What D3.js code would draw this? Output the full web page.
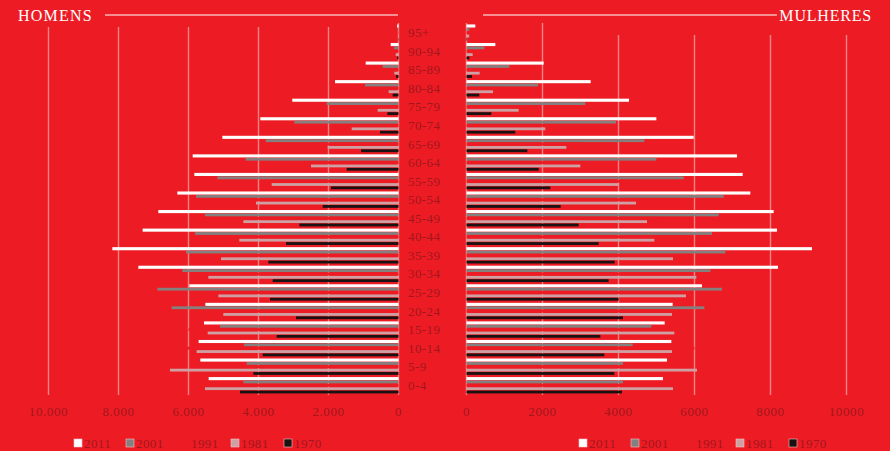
<!DOCTYPE html>
<html><head><meta charset="utf-8">
<script src="https://cdn.jsdelivr.net/npm/d3@7"></script>
<style>html,body{margin:0;padding:0;background:#ed1c24;}svg{display:block;}</style>
</head><body>
<svg id="chart" width="890" height="451"></svg>
<script>
const ages = ["0-4","5-9","10-14","15-19","20-24","25-29","30-34","35-39","40-44","45-49","50-54","55-59","60-64","65-69","70-74","75-79","80-84","85-89","90-94","95+"];
const years = ["2011","2001","1991","1981","1970"];
const colors = ["#ffffff","#858080","#ed1c24","#cfa0a3","#1a1212"];

const men2011 = [5424,5662,5710,5557,5519,5976,7433,8176,7310,6862,6319,5833,5881,5033,3948,3034,1814,937,223,40];
const men2001 = [4433,4338,4414,5100,6481,6890,6176,6071,5814,5529,5786,5176,4367,3795,2976,2052,957,452,130,20];
const men1991 = [5000,5400,6300,6000,5500,5200,5300,5400,5000,4600,4300,3800,3300,2300,1700,1000,420,170,60,10];
const men1981 = [5529,6529,5767,5452,5005,5148,5433,5071,4548,4433,4071,3624,2500,2024,1338,595,281,119,80,10];
const men1970 = [4529,4148,3881,3481,2929,3671,3595,3719,3214,2833,2167,1929,1481,1071,529,319,167,71,40,10];

const women2011 = [5171,5276,5390,5215,5425,6197,8197,9092,8171,8083,7469,7268,7118,5978,4996,4276,3268,2031,759,232];
const women2001 = [4118,4118,4373,4864,6259,6724,6417,6812,6461,6636,6768,5715,4996,4680,3934,3127,1882,1127,469,75];
const women1991 = [4800,5200,6000,5800,5500,5600,5900,5900,5500,5100,4800,4400,3700,3000,2400,1800,1000,480,200,40];
const women1981 = [5434,6066,5408,5469,5408,5776,6048,5434,4943,4750,4461,4004,2996,2627,2075,1373,697,346,162,70];
const women1970 = [4092,3890,3627,3522,4118,4004,3741,3899,3478,2952,2478,2206,1899,1601,1285,653,338,145,75,15];

const leftTicks = [10000,8000,6000,4000,2000,0];
const leftTickLabels = ["10.000","8.000","6.000","4.000","2.000","0"];
const rightTicks = [0,2000,4000,6000,8000,10000];
const rightTickLabels = ["0","2000","4000","6000","8000","10000"];

const menSeries = [men2011, men2001, men1991, men1981, men1970];
const womenSeries = [women2011, women2001, women1991, women1981, women1970];

const svg = d3.select("#chart");
const txtColor = "#a3161d";
const serif = "'Liberation Serif','DejaVu Serif',serif";

svg.append("rect").attr("width",890).attr("height",451).attr("fill","#ed1c24");

const xL = d3.scaleLinear().domain([0,10000]).range([398.5,48.5]);
const xR = d3.scaleLinear().domain([0,10000]).range([466.5,846.5]);
const y = d3.scaleBand().domain(ages.slice().reverse()).range([23.4,394.6]).padding(0);
const yIn = d3.scaleBand().domain(years).range([0.9,17.66]).padding(0);

// gridlines
const grid = svg.append("g");
leftTicks.forEach(t=>{
  grid.append("line").attr("x1",xL(t)).attr("x2",xL(t)).attr("y1",t===0?23:27).attr("y2",395)
    .attr("stroke","#fff").attr("stroke-opacity",0.45).attr("stroke-width",1.4);
});
rightTicks.forEach(t=>{
  grid.append("line").attr("x1",xR(t)).attr("x2",xR(t)).attr("y1",t<=2000?23:35).attr("y2",395)
    .attr("stroke","#fff").attr("stroke-opacity",0.45).attr("stroke-width",1.4);
});

// bars
function drawSide(series, x, left){
  const g = svg.append("g");
  series.forEach((vals,si)=>{
    const h = si===0 ? 3.1 : 2.8;
    g.selectAll(null).data(ages.map((a,i)=>({age:a,v:vals[i]}))).enter().append("rect")
      .attr("x", d=> left ? x(d.v) : x(0))
      .attr("width", d=> Math.abs(x(d.v)-x(0)))
      .attr("y", d=> y(d.age) + yIn(years[si]) + (yIn.bandwidth()-h)/2)
      .attr("height", h)
      .attr("fill", colors[si]);
  });
}
drawSide(menSeries, xL, true);
drawSide(womenSeries, xR, false);

// age labels
svg.append("g").selectAll("text").data(ages).enter().append("text")
  .attr("x",408).attr("y",d=>y(d)+y.bandwidth()/2+4.5)
  .attr("font-family",serif).attr("font-size",13).attr("letter-spacing",0.4).attr("fill",txtColor).text(d=>d);

// tick labels
svg.append("g").selectAll("text").data(leftTicks).enter().append("text")
  .attr("x",d=>xL(d)).attr("y",415.5).attr("text-anchor","middle")
  .attr("font-family",serif).attr("font-size",13).attr("letter-spacing",0.6).attr("fill",txtColor)
  .text((d,i)=>leftTickLabels[i]);
svg.append("g").selectAll("text").data(rightTicks).enter().append("text")
  .attr("x",d=>xR(d)).attr("y",415.5).attr("text-anchor","middle")
  .attr("font-family",serif).attr("font-size",13).attr("letter-spacing",0.6).attr("fill",txtColor)
  .text((d,i)=>rightTickLabels[i]);

// titles
svg.append("text").attr("x",18).attr("y",21).attr("font-family",serif).attr("font-size",16)
  .attr("letter-spacing",1.2).attr("fill","#fff").text("HOMENS");
svg.append("line").attr("x1",105).attr("x2",398).attr("y1",15).attr("y2",15).attr("stroke","#fff").attr("stroke-width",1.2);
svg.append("text").attr("x",872).attr("y",21).attr("text-anchor","end").attr("font-family",serif).attr("font-size",16)
  .attr("letter-spacing",0.8).attr("fill","#fff").text("MULHERES");
svg.append("line").attr("x1",483).attr("x2",777).attr("y1",15).attr("y2",15).attr("stroke","#fff").attr("stroke-width",1.2);

// legends
function legend(xs){
  const g = svg.append("g");
  years.forEach((yr,i)=>{
    g.append("rect").attr("x",xs[i]-4).attr("y",439).attr("width",8).attr("height",8)
      .attr("fill",colors[i]).attr("stroke", i===2 ? "none" : "#f4c0c2").attr("stroke-width",0.6);
    g.append("text").attr("x",xs[i]+6).attr("y",447.5).attr("font-family",serif).attr("font-size",13)
      .attr("letter-spacing",0.4).attr("fill",txtColor).text(yr);
  });
}
legend([78,130,185,235,288]);
legend([583,635,690,740,793]);
</script>
</body></html>
